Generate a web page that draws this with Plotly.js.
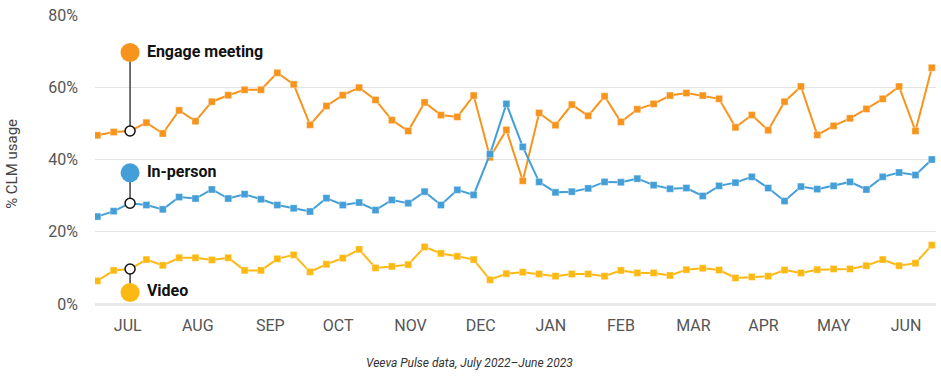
<!DOCTYPE html>
<html>
<head>
<meta charset="utf-8">
<script src="https://cdn.plot.ly/plotly-3.0.1.min.js"></script>
<style>html,body{margin:0;padding:0;background:#fff;}#chart{width:941px;height:379px;}</style>
</head>
<body>
<div id="chart"></div>
<script>
// Weekly % CLM usage, July 2022 – June 2023 (52 weeks)
var startDate = "2022-07-03";
var engageMeeting = [46.7, 47.6, 47.9, 50.2, 47.2, 53.6, 50.6, 56.0, 57.8, 59.3, 59.3, 64.0, 60.8, 49.6, 54.8, 57.8, 59.9, 56.5,
  50.9, 47.9, 55.8, 52.3, 51.8, 57.7, 40.6, 48.2, 34.1, 52.9, 49.5, 55.2, 52.1, 57.5, 50.4, 53.9, 55.4,
  57.7, 58.4, 57.7, 56.8, 48.9, 52.3, 48.1, 56.0, 60.2, 46.8, 49.3, 51.4, 54.0, 56.8, 60.2, 47.9, 65.4];
var inPerson = [24.2, 25.7, 27.9, 27.4, 26.2, 29.6, 29.2, 31.7, 29.2, 30.4, 29.0, 27.4, 26.5, 25.6, 29.3, 27.4, 28.1, 26.0,
  28.8, 27.9, 31.1, 27.4, 31.6, 30.2, 41.5, 55.4, 43.5, 33.8, 30.9, 31.1, 32.0, 33.8, 33.7, 34.7, 32.9,
  31.9, 32.1, 29.9, 32.7, 33.6, 35.2, 32.1, 28.5, 32.5, 31.8, 32.7, 33.8, 31.7, 35.2, 36.4, 35.7, 40.0];
var video = [6.4, 9.3, 9.7, 12.3, 10.7, 12.8, 12.8, 12.2, 12.8, 9.3, 9.3, 12.5, 13.6, 8.9, 11.0, 12.7, 15.1, 10.0,
  10.4, 10.9, 15.8, 14.0, 13.2, 12.3, 6.7, 8.4, 8.8, 8.3, 7.7, 8.3, 8.3, 7.7, 9.3, 8.6, 8.6,
  7.9, 9.5, 9.9, 9.4, 7.2, 7.5, 7.7, 9.4, 8.6, 9.5, 9.7, 9.7, 10.6, 12.3, 10.6, 11.3, 16.3];
var seriesNames = ["Engage meeting", "In-person", "Video"];
var monthLabels = ["JUL","AUG","SEP","OCT","NOV","DEC","JAN","FEB","MAR","APR","MAY","JUN"];
var monthTickDates = ["2022-07-16","2022-08-15","2022-09-15","2022-10-14","2022-11-14","2022-12-14",
  "2023-01-13","2023-02-12","2023-03-15","2023-04-14","2023-05-14","2023-06-14"];
var yTickVals = [0, 20, 40, 60, 80];
var yTickText = ["0%", "20%", "40%", "60%", "80%"];

var colors = ["#F7941D", "#449FD8", "#FDB913"];
var labelIndex = 2;                 // week where the label callouts attach
var labelLevels = [69.6, 36.3, 3.2]; // callout dot heights

function weekDates(start, n) {
  var out = [];
  var d0 = new Date(start + "T00:00:00Z");
  for (var i = 0; i < n; i++) {
    var d = new Date(d0.getTime() + i * 7 * 86400000);
    out.push(d.toISOString().slice(0, 10));
  }
  return out;
}
var weeks = weekDates(startDate, engageMeeting.length);
var allSeries = [engageMeeting, inPerson, video];

var traces = [];
allSeries.forEach(function (vals, k) {
  traces.push({
    type: "scatter", mode: "lines+markers", x: weeks, y: vals, name: seriesNames[k],
    line: {color: colors[k], width: 2},
    marker: {symbol: "square", size: 7, color: colors[k], line: {width: 1, color: "rgba(255,255,255,0.35)"}},
    hoverinfo: "x+y"
  });
});
// connector lines
allSeries.forEach(function (vals, k) {
  traces.push({
    type: "scatter", mode: "lines", x: [weeks[labelIndex], weeks[labelIndex]],
    y: [labelLevels[k], vals[labelIndex]], line: {color: "#222", width: 1.3}, hoverinfo: "skip"
  });
});
// hollow attach circles
allSeries.forEach(function (vals, k) {
  traces.push({
    type: "scatter", mode: "markers", x: [weeks[labelIndex]], y: [vals[labelIndex]],
    marker: {symbol: "circle", size: 10, color: "#fff", line: {color: "#111", width: 1.5}}, hoverinfo: "skip"
  });
});
// label dots + text
allSeries.forEach(function (vals, k) {
  traces.push({
    type: "scatter", mode: "markers+text", x: [weeks[labelIndex]], y: [labelLevels[k]],
    text: [" <b>" + seriesNames[k] + "</b>"], textposition: "middle right",
    textfont: {family: "Roboto, sans-serif", size: 16, color: "#111"},
    marker: {symbol: "circle", size: 19, color: colors[k]}, cliponaxis: false, hoverinfo: "skip"
  });
});

var layout = {
  width: 941, height: 379,
  margin: {l: 95, r: 5, t: 15, b: 75},
  paper_bgcolor: "#fff", plot_bgcolor: "#fff",
  showlegend: false,
  font: {family: "Roboto, sans-serif", color: "#555"},
  xaxis: {
    type: "date", range: ["2022-07-02", "2023-06-26 19:00"],
    tickvals: monthTickDates, ticktext: monthLabels,
    showgrid: false, zeroline: false, showline: false, ticks: "",
    tickfont: {size: 16, color: "#555"}, ticklabelstandoff: 10
  },
  yaxis: {
    range: [0, 80], tickvals: yTickVals, ticktext: yTickText,
    showgrid: true, gridcolor: "#e3e3e3", gridwidth: 1,
    zeroline: true, zerolinecolor: "#e8e8e8", zerolinewidth: 3,
    showline: false, ticks: "", tickfont: {size: 16, color: "#555"}, ticklabelstandoff: 16
  },
  annotations: [
    {text: "% CLM usage", xref: "paper", yref: "paper", x: -0.099, y: 0.484, xanchor: "center", yanchor: "middle",
     textangle: -90, showarrow: false, font: {size: 15, color: "#444"}},
    {text: "<i>Veeva Pulse data, July 2022–June 2023</i>", xref: "paper", yref: "paper",
     x: 0.445, y: -0.203, xanchor: "center", yanchor: "middle", showarrow: false, font: {size: 12, color: "#333"}}
  ]
};
Plotly.newPlot("chart", traces, layout, {staticPlot: true, displayModeBar: false});
</script>
</body>
</html>
